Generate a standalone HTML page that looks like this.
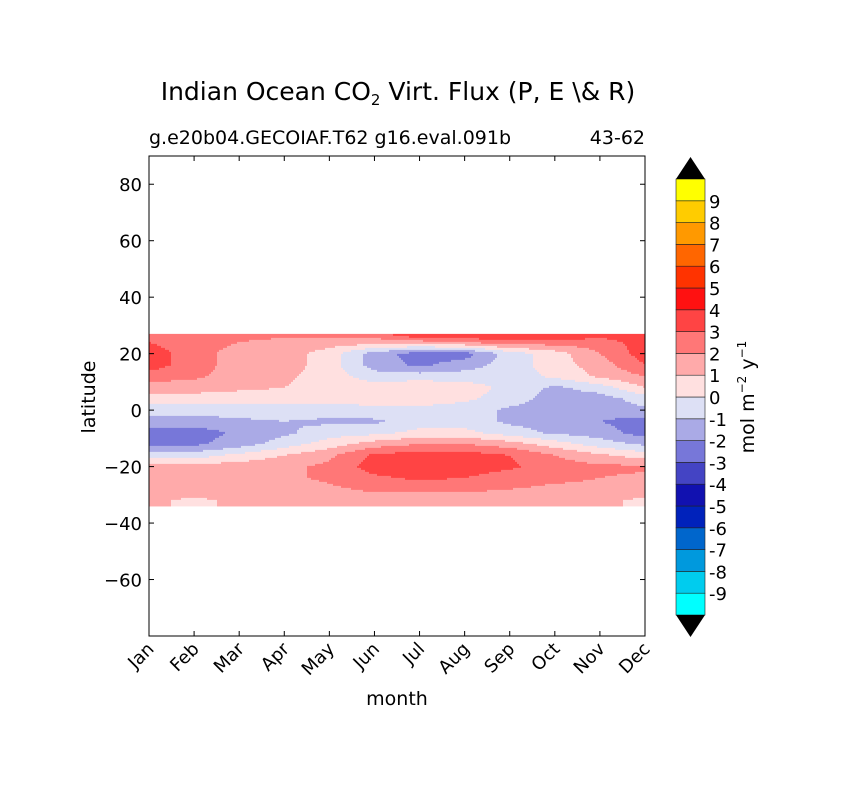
<!DOCTYPE html>
<html><head><meta charset="utf-8"><style>
body{margin:0;background:#fff}
svg text{font-family:"DejaVu Sans","Liberation Sans",sans-serif;fill:#000}
</style></head><body>
<svg id="chart" width="841" height="788" xmlns="http://www.w3.org/2000/svg">
<rect width="841" height="788" fill="#fff"/>
<text x="398" y="100" font-size="25" text-anchor="middle">Indian Ocean CO<tspan font-size="15" dy="5">2</tspan><tspan dy="-5"> Virt. Flux (P, E \&amp; R)</tspan></text>
<text x="149" y="144" font-size="19">g.e20b04.GECOIAF.T62 g16.eval.091b</text>
<text x="645" y="144" font-size="19" text-anchor="end">43-62</text>
<g id="field"></g>
<rect x="149" y="156" width="496" height="480" fill="none" stroke="#000" stroke-width="1"/>
<g id="axes"></g>
<text x="397" y="705" font-size="19" text-anchor="middle">month</text>
<text transform="translate(95,397) rotate(-90)" font-size="19" text-anchor="middle">latitude</text>
<g id="cbar"></g>
<text transform="translate(754,397) rotate(-90)" font-size="19" text-anchor="middle">mol m<tspan font-size="12" dy="-8">−2</tspan><tspan dy="8">  y</tspan><tspan font-size="12" dy="-8">−1</tspan></text>
</svg>
<script>
const months=["Jan","Feb","Mar","Apr","May","Jun","Jul","Aug","Sep","Oct","Nov","Dec"];
const latTicks=[80,60,40,20,0,-20,-40,-60];
const levels=[-9,-8,-7,-6,-5,-4,-3,-2,-1,0,1,2,3,4,5,6,7,8,9];
const binColors=["#00ffff","#00ccee","#0099dd","#0066cc","#0022bb","#1111b0","#4444c4","#7777d9","#aaaae6","#dde0f5","#ffe0e0","#ffaaaa","#ff7777","#ff4444","#ff1111","#ff3300","#ff6600","#ff9900","#ffcc00","#ffff00"];
const lats=[27,24,20,16,12,8,4,0,-4,-8,-12,-16,-20,-24,-28,-32,-34];
const r27=[2.5,2.5,2.2,2.2,2.5,2.5,4.2,4.2,4.2,4.2,3.5,3.5];
const r24=[3,2.5,2,1.8,1.5,1.5,1.5,2,2.5,2.5,2.5,3.5];
const r20=[3.5,2.5,1.5,1.5,0.5,-1.5,-2.5,-2.5,-0.5,0.5,2,3.5];
const r16=[3.5,2.5,1.5,1.5,0.5,-1.5,-2.2,-1.5,-0.5,0.5,1.5,3];
const r12=[2.5,2.2,1.5,1.2,0.5,-0.5,-0.5,-0.5,-0.5,0.2,1.2,2];
const r8=[1.5,1.5,1.2,1,0.5,0.5,0.8,0.5,-0.3,-1.2,-0.5,1];
const r4=[0.5,0.5,0.5,0.5,0.3,0.5,0.5,0.2,-0.5,-1.5,-1.5,-0.5];
const r0=[-0.5,-0.5,-0.5,-0.5,-0.5,-0.3,-0.3,-0.5,-1.2,-1.5,-1.5,-1.2];
const rS4=[-1.5,-1.5,-1.2,-1,-1.2,-1.2,-0.5,-0.5,-1.2,-1.5,-2,-2.5];
const rS8=[-2.5,-2.5,-1.8,-1.2,-0.5,-0.3,0.3,0.3,-0.5,-1.2,-1.5,-2.5];
const rS12=[-2.2,-2.2,-1.5,-0.5,0.5,1.5,2,2,1.5,0.5,-0.5,-1.2];
const rS16=[-0.5,-0.5,0.3,1,1.8,3.2,3.5,3.5,3,2,1.2,0.5];
const rS20=[1.5,1.5,1.5,1.8,2.2,3.5,3.5,3.5,3.2,2.5,2.2,2.2];
const rS24=[1.5,1.5,1.5,1.8,2.2,2.8,3.2,3,2.5,2.2,2,1.8];
const rS28=[1.5,1.5,1.5,1.5,1.8,2.2,2.2,2.2,2,1.8,1.8,1.5];
const rS32=[1.2,0.8,1.2,1.2,1.3,1.5,1.5,1.5,1.4,1.5,1.2,0.8];
const rS34=[1.2,0.8,1.2,1.2,1.3,1.5,1.5,1.5,1.4,1.5,1.2,0.8];
const grid=[r27,r24,r20,r16,r12,r8,r4,r0,rS4,rS8,rS12,rS16,rS20,rS24,rS28,rS32,rS34];

const NS='http://www.w3.org/2000/svg';
const X0=149,X1=645,Y0=156,Y1=636;
const xS=m=>X0+(X1-X0)*m/11;
const yS=l=>Y1-(Y1-Y0)*(l+80)/170;
function mk(t,a,p){const e=document.createElementNS(NS,t);for(const k in a)e.setAttribute(k,a[k]);(p||document.getElementById('chart')).appendChild(e);return e;}
function colorFor(v){let i=0;while(i<levels.length&&v>levels[i])i++;return binColors[i];}
function val(m,l){
  let j=0;while(j<lats.length-2&&l<lats[j+1])j++;
  const t=(lats[j]-l)/(lats[j]-lats[j+1]);
  let i=Math.min(10,Math.floor(m));const s=m-i;
  const a=grid[j][i],b=grid[j][i+1],c=grid[j+1][i],d=grid[j+1][i+1];
  return (a*(1-s)+b*s)*(1-t)+(c*(1-s)+d*s)*t;
}
const field=document.getElementById('field');
const yTop=yS(lats[0]),yBot=yS(lats[lats.length-1]);
const step=2;
for(let y=yTop;y<yBot;y+=step){
  const l=(Y1-(y+step/2))*170/(Y1-Y0)-80;
  let runStart=X0,runCol=null;
  for(let x=X0;x<=X1;x+=step){
    let col=null;
    if(x<X1){const m=(x+step/2-X0)*11/(X1-X0);col=colorFor(val(Math.min(11,m),Math.max(-34,Math.min(27,l))));}
    if(col!==runCol){
      if(runCol){const r=mk('rect',{x:runStart,y:y,width:Math.min(x,X1)-runStart,height:Math.min(step,yBot-y)+0.3,fill:runCol},field);
        
        }
      runStart=x;runCol=col;
    }
  }
}
const axes=document.getElementById('axes');
latTicks.forEach(v=>{const y=yS(v);
  mk('line',{x1:X0,x2:X0+5,y1:y,y2:y,stroke:'#000'},axes);
  mk('line',{x1:X1,x2:X1-5,y1:y,y2:y,stroke:'#000'},axes);
  const t=mk('text',{x:X0-7,y:y+7,'font-size':18,'text-anchor':'end'},axes);t.textContent=v<0?'−'+(-v):v;
  
  });
months.forEach((mn,i)=>{const x=xS(i);
  mk('line',{x1:x,x2:x,y1:Y1,y2:Y1-5,stroke:'#000'},axes);
  mk('line',{x1:x,x2:x,y1:Y0,y2:Y0+5,stroke:'#000'},axes);
  const t=mk('text',{transform:`translate(${x+6},${Y1+14}) rotate(-45)`,'font-size':18,'text-anchor':'end'},axes);t.textContent=mn;
  
  });
const cb=document.getElementById('cbar');
const CX=676,CW=29,CT=179,CB=615,bh=(CB-CT)/binColors.length;
binColors.forEach((c,i)=>{const y=CB-(i+1)*bh;const r=mk('rect',{x:CX,y:y,width:CW,height:bh,fill:c,stroke:'#222','stroke-width':0.6},cb);
  
  });
mk('polygon',{points:`${CX},${CT} ${CX+CW},${CT} ${CX+CW/2},${CT-22}`,fill:'#000'},cb);
mk('polygon',{points:`${CX},${CB} ${CX+CW},${CB} ${CX+CW/2},${CB+22}`,fill:'#000'},cb);
levels.forEach((v,i)=>{const y=CB-(i+1)*bh;const t=mk('text',{x:CX+CW+4,y:y+7,'font-size':18},cb);t.textContent=v;
  
  });
</script>
</body></html>
